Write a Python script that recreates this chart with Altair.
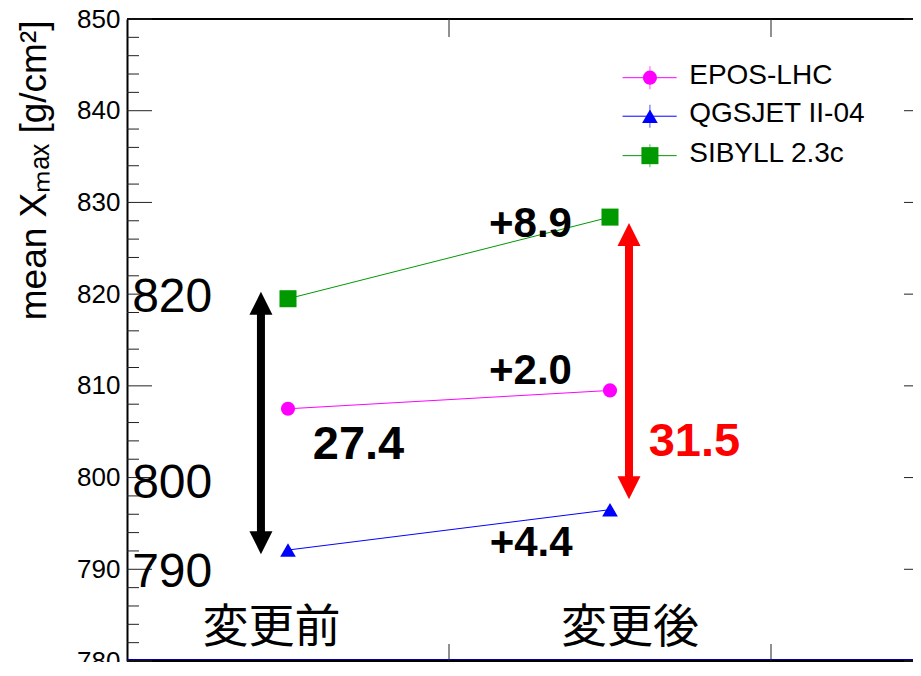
import altair as alt
import pandas as pd

# ---------------- data ----------------
stage_x = [1, 2]
stage_names = ["unmodified", "modified"]
models = ["EPOS-LHC", "QGSJET II-04", "SIBYLL 2.3c"]
epos_lhc = [807.5, 809.5]
qgsjet = [792.1, 796.5]
sibyll = [819.5, 828.4]
model_colors = ["#ff00ff", "#0000ff", "#009900"]
model_shapes = ["circle", "triangle-up", "square"]
model_sizes = [200, 290, 256]

# annotations (data coordinates)
shift_labels = ["+2.0", "+4.4", "+8.9"]
shift_x = [1.753, 1.755, 1.753]
shift_y = [810.25, 791.4, 826.27]
spread_labels = ["27.4", "31.5"]
spread_x = [1.219, 2.262]
spread_y = [802.0, 802.4]
spread_colors = ["black", "red"]
arrow_x = [0.916, 2.059]
arrow_top = [819.0, 826.5]
arrow_bottom = [792.9, 798.9]
arrow_colors = ["black", "red"]
big_labels = ["820", "800", "790"]
big_y = [818.0, 797.8, 788.1]
big_x = [0.516, 0.516, 0.516]
stage_jp = ["変更前", "変更後"]
stage_jp_x = [0.949, 2.062]
stage_jp_y = [782.1, 782.1]
legend_y = [843.6, 839.4, 835.1]
legend_line_x = [2.039, 2.207]
legend_mark_x = 2.124
legend_text_x = 2.246

y_major = list(range(780, 851, 10))
y_minor = [v for v in range(780, 851, 2) if v % 10]
x_ticks = [1.5, 2.5]

# ---------------- layout ----------------
W, H = 786, 642          # plot area ends at the page's right margin
PXU = 322.0              # pixels per x unit (as in the reference)
XMAX = 0.5 + W / PXU
RIGHT = 802              # where the (off-page) right frame would sit

xs = alt.Scale(domain=[0.5, XMAX], nice=False, zero=False)
ys = alt.Scale(domain=[780, 850], nice=False, zero=False)

label_expr = " : ".join(
    f"datum.value == {sx} ? '{nm}'" for sx, nm in zip(stage_x, stage_names)
) + " : ''"

x_axis = alt.Axis(values=stage_x, labelExpr=label_expr, ticks=False, tickSize=0,
                  domain=False, grid=False, labelFontSize=30, labelFont="Liberation Sans",
                  labelColor="black", labelPadding=8, title=None)
y_axis = alt.Axis(values=y_major, ticks=False, tickSize=0, domain=True, domainColor="black",
                  domainWidth=2, grid=False, labelFontSize=26, labelFont="Liberation Sans",
                  labelColor="black", labelPadding=7,
                  title="mean Xₘₐₓ [g/cm²]", titleFont="Liberation Sans",
                  titleFontSize=37, titleFontWeight="normal", titleColor="black",
                  titleAngle=270, titleX=-82, titleY=1, titleAlign="right",
                  titleBaseline="alphabetic")


def X(f="x"):
    return alt.X(f"{f}:Q", scale=xs, axis=x_axis)


def Y(f="y"):
    return alt.Y(f"{f}:Q", scale=ys, axis=y_axis)


rows = []
for m, vals in zip(models, [epos_lhc, qgsjet, sibyll]):
    for sx, v in zip(stage_x, vals):
        rows.append({"model": m, "x": sx, "y": v})
series = pd.DataFrame(rows)

color_scale = alt.Scale(domain=models, range=model_colors)
shape_scale = alt.Scale(domain=models, range=model_shapes)
size_scale = alt.Scale(domain=models, range=model_sizes)

lines = alt.Chart(series).mark_line(strokeWidth=1).encode(
    x=X(), y=Y(),
    color=alt.Color("model:N", scale=color_scale, legend=None),
)
points = alt.Chart(series).mark_point(filled=True, opacity=1).encode(
    x=X(), y=Y(),
    color=alt.Color("model:N", scale=color_scale, legend=None),
    shape=alt.Shape("model:N", scale=shape_scale, legend=None),
    size=alt.Size("model:N", scale=size_scale, legend=None),
)

# frame & ticks
top_line = alt.Chart(pd.DataFrame({"y": [850]})).mark_rule(color="black", strokeWidth=2).encode(
    y=Y(), x=alt.value(0), x2=alt.value(W))
bottom_line = alt.Chart(pd.DataFrame({"y": [780]})).mark_rule(color="black", strokeWidth=2).encode(
    y=Y(), x=alt.value(0), x2=alt.value(W))
bottom_blue = alt.Chart(pd.DataFrame({"y": [780]})).mark_rule(color="#0000aa", strokeWidth=1, yOffset=-1.5).encode(
    y=Y(), x=alt.value(0), x2=alt.value(W))

maj = pd.DataFrame({"y": y_major})
mnr = pd.DataFrame({"y": y_minor})
left_major = alt.Chart(maj).mark_rule(color="#222", strokeWidth=1).encode(y=Y(), x=alt.value(0), x2=alt.value(25))
left_minor = alt.Chart(mnr).mark_rule(color="#222", strokeWidth=1).encode(y=Y(), x=alt.value(0), x2=alt.value(12))
right_major = alt.Chart(maj).mark_rule(color="#222", strokeWidth=1).encode(y=Y(), x=alt.value(RIGHT - 25), x2=alt.value(W))
xt = pd.DataFrame({"x": x_ticks})
bottom_ticks = alt.Chart(xt).mark_rule(color="#222", strokeWidth=1).encode(x=X(), y=alt.value(H), y2=alt.value(H - 17))
top_ticks = alt.Chart(xt).mark_rule(color="#222", strokeWidth=1).encode(x=X(), y=alt.value(0), y2=alt.value(18))

# arrows
arr = pd.DataFrame({"x": arrow_x, "top": arrow_top, "bottom": arrow_bottom, "c": arrow_colors})
shafts = alt.Chart(arr).mark_rule(strokeWidth=8).encode(
    x=X(), y=Y("top"), y2="bottom:Q", color=alt.Color("c:N", scale=None))
heads_up = alt.Chart(arr).mark_point(shape="M0,-1L1,1L-1,1Z", filled=True, opacity=1, size=529, strokeWidth=0).encode(
    x=X(), y=Y("top"), color=alt.Color("c:N", scale=None))
heads_dn = alt.Chart(arr).mark_point(shape="M0,1L1,-1L-1,-1Z", filled=True, opacity=1, size=529, strokeWidth=0).encode(
    x=X(), y=Y("bottom"), color=alt.Color("c:N", scale=None))

# texts
shift_df = pd.DataFrame({"x": shift_x, "y": shift_y, "t": shift_labels})
shift_text = alt.Chart(shift_df).mark_text(font="Liberation Sans", fontSize=42, fontWeight="bold",
                                           color="black", align="center", baseline="alphabetic").encode(
    x=X(), y=Y(), text="t:N")
spread_df = pd.DataFrame({"x": spread_x, "y": spread_y, "t": spread_labels, "c": spread_colors})
spread_text = alt.Chart(spread_df).mark_text(font="Liberation Sans", fontSize=47, fontWeight="bold",
                                             align="center", baseline="alphabetic").encode(
    x=X(), y=Y(), text="t:N", color=alt.Color("c:N", scale=None))
big_df = pd.DataFrame({"x": big_x, "y": big_y, "t": big_labels})
big_text = alt.Chart(big_df).mark_text(font="Liberation Sans", fontSize=48, color="black",
                                       align="left", baseline="alphabetic").encode(
    x=X(), y=Y(), text="t:N")
jp_df = pd.DataFrame({"x": stage_jp_x, "y": stage_jp_y, "t": stage_jp})
jp_text = alt.Chart(jp_df).mark_text(font="Noto Sans CJK JP", fontSize=46, color="black",
                                     align="center", baseline="alphabetic").encode(
    x=X(), y=Y(), text="t:N")

# legend (drawn by hand)
leg = pd.DataFrame({"model": models, "y": legend_y,
                    "x1": [legend_line_x[0]] * 3, "x2": [legend_line_x[1]] * 3,
                    "xm": [legend_mark_x] * 3, "xt": [legend_text_x] * 3})
leg_lines = alt.Chart(leg).mark_rule(strokeWidth=1).encode(
    x=X("x1"), x2="x2:Q", y=Y(), color=alt.Color("model:N", scale=color_scale, legend=None))
leg_err = alt.Chart(leg).mark_tick(orient="vertical", size=23, thickness=1).encode(
    x=X("xm"), y=Y(), color=alt.Color("model:N", scale=color_scale, legend=None))
leg_marks = alt.Chart(leg).mark_point(filled=True, opacity=1).encode(
    x=X("xm"), y=Y(),
    color=alt.Color("model:N", scale=color_scale, legend=None),
    shape=alt.Shape("model:N", scale=shape_scale, legend=None),
    size=alt.Size("model:N", scale=size_scale, legend=None))
leg_text = alt.Chart(leg).mark_text(font="Liberation Sans", fontSize=28, color="black",
                                    align="left", baseline="middle", dy=-2).encode(
    x=X("xt"), y=Y(), text="model:N")

chart = alt.layer(
    lines, top_line, bottom_blue, bottom_line,
    left_major, left_minor, right_major, bottom_ticks, top_ticks,
    shafts, heads_up, heads_dn,
    points,
    shift_text, spread_text, big_text, jp_text,
    leg_lines, leg_err, leg_marks, leg_text,
).properties(
    width=W, height=H,
    padding={"left": 119, "top": 11, "right": 0, "bottom": 1},
    autosize=alt.AutoSizeParams(type="none"),
    background="white",
).configure_view(stroke=None)

chart.save("out.html", embed_options={"renderer": "svg", "actions": False})
